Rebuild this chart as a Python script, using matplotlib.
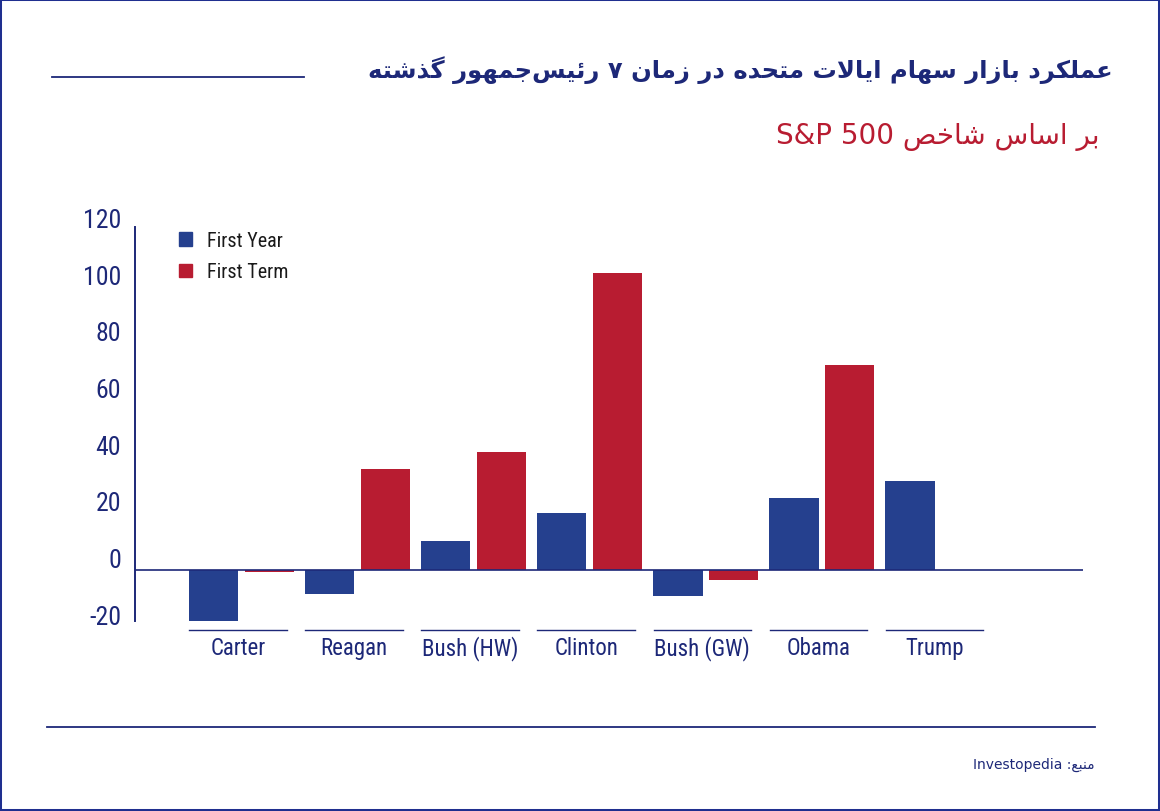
import numpy as np
import matplotlib
matplotlib.use("Agg")
import matplotlib.pyplot as plt
from matplotlib import font_manager
from matplotlib.patches import Patch, Rectangle
from matplotlib.lines import Line2D
import matplotlib.transforms as mtransforms

presidents = ["Carter", "Reagan", "Bush (HW)", "Clinton", "Bush (GW)", "Obama", "Trump"]
first_year = [-19.0, -8.5, 10.2, 20.1, -9.2, 25.4, 31.4]
first_term = [-0.8, 35.6, 41.6, 104.8, -3.5, 72.3, np.nan]
y_ticks = [120, 100, 80, 60, 40, 20, 0, -20]
series_names = ["First Year", "First Term"]

title_fa = "عملکرد بازار سهام ایالات متحده در زمان ۷ رئیس\u200cجمهور گذشته"
subtitle_fa = "بر اساس شاخص S&P 500"
source_fa = "منبع: Investopedia"

NAVY = "#1d2878"
BLUE = "#25408e"
RED = "#b81c31"

# --- minimal Persian shaping (matplotlib has no text shaping) ---
FORMS = {  # isolated, final, initial, medial
    "ا": "\uFE8D\uFE8E", "د": "\uFEA9\uFEAA", "ذ": "\uFEAB\uFEAC",
    "ر": "\uFEAD\uFEAE", "ز": "\uFEAF\uFEB0", "و": "\uFEED\uFEEE",
    "ب": "\uFE8F\uFE90\uFE91\uFE92", "ت": "\uFE95\uFE96\uFE97\uFE98",
    "ج": "\uFE9D\uFE9E\uFE9F\uFEA0", "ح": "\uFEA1\uFEA2\uFEA3\uFEA4",
    "خ": "\uFEA5\uFEA6\uFEA7\uFEA8", "س": "\uFEB1\uFEB2\uFEB3\uFEB4",
    "ش": "\uFEB5\uFEB6\uFEB7\uFEB8", "ص": "\uFEB9\uFEBA\uFEBB\uFEBC",
    "ع": "\uFEC9\uFECA\uFECB\uFECC", "ل": "\uFEDD\uFEDE\uFEDF\uFEE0",
    "م": "\uFEE1\uFEE2\uFEE3\uFEE4", "ن": "\uFEE5\uFEE6\uFEE7\uFEE8",
    "ه": "\uFEE9\uFEEA\uFEEB\uFEEC", "ئ": "\uFE89\uFE8A\uFE8B\uFE8C",
    "ک": "\uFB8E\uFB8F\uFB90\uFB91", "گ": "\uFB92\uFB93\uFB94\uFB95",
    "ی": "\uFBFC\uFBFD\uFBFE\uFBFF",
}


def is_fa(ch):
    return ch in FORMS or "\u0600" <= ch <= "\u06FF"


def shape_word(word):
    chars = list(word)
    out = []
    i = 0
    while i < len(chars):
        c = chars[i]
        prev = chars[i - 1] if i > 0 else None
        joins_prev = prev is not None and prev in FORMS and len(FORMS[prev]) == 4 and c in FORMS
        if c == "ل" and i + 1 < len(chars) and chars[i + 1] == "ا":
            out.append("\uFEFC" if joins_prev else "\uFEFB")
            i += 2
            continue
        if c not in FORMS:
            if c != "\u200c":
                out.append(c)
            i += 1
            continue
        nxt = chars[i + 1] if i + 1 < len(chars) else None
        joins_next = len(FORMS[c]) == 4 and nxt is not None and nxt in FORMS
        f = FORMS[c]
        if joins_prev and joins_next:
            out.append(f[3])
        elif joins_prev:
            out.append(f[1])
        elif joins_next:
            out.append(f[2])
        else:
            out.append(f[0])
        i += 1
    return "".join(reversed(out))


def fa(text):
    runs = []
    for w in text.split(" "):
        if any(is_fa(ch) for ch in w):
            runs.append(("rtl", shape_word(w)))
        elif runs and runs[-1][0] == "ltr":
            runs[-1] = ("ltr", runs[-1][1] + " " + w)
        else:
            runs.append(("ltr", w))
    return " ".join(r[1] for r in reversed(runs))


# pick a narrow font for the Latin labels if one is around
def narrow_props(size):
    for fam in ["Liberation Sans Narrow", "Roboto Condensed", "Open Sans Condensed"]:
        try:
            font_manager.findfont(font_manager.FontProperties(family=fam), fallback_to_default=False)
            return {"family": fam, "size": size}
        except ValueError:
            pass
    return {"family": "DejaVu Sans", "stretch": "condensed", "size": size * 0.9}


fig = plt.figure(figsize=(11.6, 8.12), dpi=100)
ax = fig.add_axes([135 / 1160, 1 - 622 / 812, 948 / 1160, 394 / 812])

x = np.arange(len(presidents))
w = 0.425
off = 0.24
ax.bar(x - off, first_year, width=w, color=BLUE, label=series_names[0])
ax.bar(x + off, first_term, width=w, color=RED, label=series_names[1])

ax.set_xlim(-0.917, 7.25)
ax.set_ylim(-18.0, 121.1)
ax.axhline(0, color=NAVY, lw=1.2)
for s in ["top", "right", "bottom"]:
    ax.spines[s].set_visible(False)
ax.spines["left"].set_color(NAVY)
ax.spines["left"].set_linewidth(1.4)
ax.set_xticks([])
ax.set_yticks([])

tick_p = narrow_props(18.5)
cat_p = narrow_props(16.5)
leg_p = narrow_props(14.5)

ytrans = mtransforms.blended_transform_factory(ax.transAxes, ax.transData)
for t in y_ticks:
    ax.text(-0.0148, t + 1.1, str(t), transform=ytrans, ha="right", va="baseline",
            color=NAVY, clip_on=False, fontproperties=font_manager.FontProperties(**tick_p))

for i, name in enumerate(presidents):
    ax.plot([i - 0.45, i + 0.39], [-21.2, -21.2], color=NAVY, lw=1.0, clip_on=False)
    ax.text(i - 0.03, -27.3, name, ha="center", va="center",
            color=NAVY, clip_on=False, fontproperties=font_manager.FontProperties(**cat_p))

handles = [Patch(color=BLUE), Patch(color=RED)]
leg = ax.legend(handles, series_names, loc="upper left", bbox_to_anchor=(0.0464, 0.99),
                frameon=False, handlelength=0.65, handleheight=0.65, handletextpad=0.75,
                labelspacing=0.62, borderpad=0, borderaxespad=0,
                prop=font_manager.FontProperties(**leg_p))
for txt in leg.get_texts():
    txt.set_color("#1a1a1a")

fig.text(1113 / 1160, 1 - 70 / 812, fa(title_fa), ha="right", va="center",
         fontsize=17.5, fontweight="bold", color=NAVY, family="DejaVu Sans")
fig.text(1100 / 1160, 1 - 137 / 812, fa(subtitle_fa), ha="right", va="center",
         fontsize=20, color=RED, family="DejaVu Sans")
fig.text(1095 / 1160, 1 - 765 / 812, fa(source_fa), ha="right", va="center",
         fontsize=10, color=NAVY, family="DejaVu Sans")

fig.add_artist(Line2D([52 / 1160, 304 / 1160], [1 - 78 / 812] * 2, color=NAVY, lw=1.3))
fig.add_artist(Line2D([47 / 1160, 1095 / 1160], [1 - 728 / 812] * 2, color=NAVY, lw=1.3))
fig.add_artist(Rectangle((0, 0), 1, 1, transform=fig.transFigure, fill=False,
                         edgecolor="#1f2f8f", lw=2.9))

fig.savefig("out.png", dpi=100)
